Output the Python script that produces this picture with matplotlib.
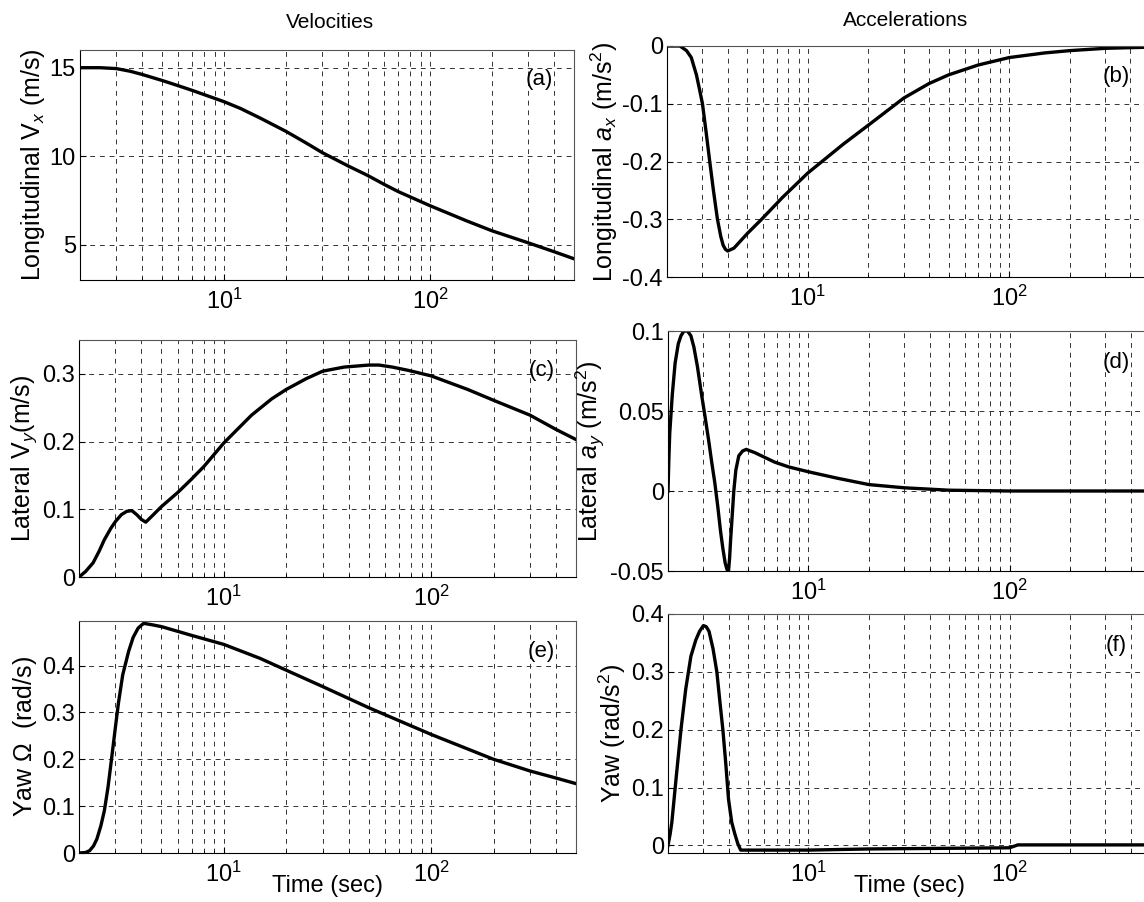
import matplotlib.pyplot as plt
from matplotlib.ticker import LogLocator, NullFormatter

plt.rcParams['font.family'] = ['Liberation Sans', 'DejaVu Sans']
plt.rcParams['mathtext.fontset'] = 'custom'
plt.rcParams['mathtext.rm'] = 'Liberation Sans'
plt.rcParams['mathtext.it'] = 'Liberation Sans:italic'
plt.rcParams['mathtext.bf'] = 'Liberation Sans:bold'

# longitudinal velocity (m/s)
t_vx = [2, 2.5, 3, 3.5, 4, 5, 6, 7, 8, 10, 12, 15, 20, 25, 30, 40, 50, 60, 70, 100, 150, 200, 300, 400, 500]
vx = [15.0, 15.0, 14.95, 14.8, 14.62, 14.28, 13.98, 13.72, 13.48, 13.08, 12.7, 12.15, 11.4, 10.75, 10.2,
      9.45, 8.9, 8.4, 8.0, 7.2, 6.35, 5.78, 5.1, 4.6, 4.2]

# lateral velocity (m/s)
t_vy = [2, 2.15, 2.34, 2.5, 2.65, 2.85, 3.0, 3.2, 3.4, 3.6, 3.8, 4.0, 4.2, 4.5, 5, 6, 6.9, 8, 10, 13.6, 17,
        20, 25, 30, 38, 50, 56, 65, 78, 100, 150, 200, 300, 400, 500]
vy = [0.0, 0.008, 0.021, 0.038, 0.055, 0.072, 0.082, 0.092, 0.097, 0.098, 0.092, 0.085, 0.081, 0.09,
      0.104, 0.125, 0.143, 0.163, 0.198, 0.239, 0.263, 0.277, 0.293, 0.304, 0.31, 0.313, 0.313, 0.31,
      0.305, 0.297, 0.277, 0.261, 0.239, 0.218, 0.203]

# yaw rate (rad/s)
t_r = [2, 2.15, 2.25, 2.35, 2.44, 2.55, 2.65, 2.76, 2.87, 3.0, 3.1, 3.25, 3.47, 3.65, 3.86, 4.1, 4.5, 5,
       6.9, 10, 15, 20, 30, 50, 72, 100, 150, 200, 300, 400, 500]
r = [0.0, 0.001, 0.005, 0.015, 0.03, 0.058, 0.09, 0.14, 0.2, 0.27, 0.32, 0.38, 0.43, 0.46, 0.48, 0.49,
     0.487, 0.483, 0.465, 0.445, 0.415, 0.39, 0.355, 0.31, 0.28, 0.253, 0.222, 0.2, 0.175, 0.16, 0.148]

# longitudinal acceleration (m/s^2)
t_ax = [2, 2.32, 2.5, 2.64, 2.8, 2.9, 3.0, 3.13, 3.26, 3.4, 3.56, 3.7, 3.8, 3.9, 4.0, 4.3, 5, 5.9, 7.5, 10,
        15, 20, 30, 40, 50, 70, 100, 150, 200, 300, 500]
ax_ = [0.0, 0.0, -0.008, -0.02, -0.05, -0.075, -0.1, -0.15, -0.2, -0.25, -0.3, -0.33, -0.345, -0.352,
       -0.355, -0.35, -0.325, -0.3, -0.262, -0.22, -0.17, -0.137, -0.09, -0.065, -0.05, -0.033, -0.02,
       -0.012, -0.008, -0.004, -0.002]

# lateral acceleration (m/s^2)
t_ay = [2, 2.02, 2.04, 2.1, 2.17, 2.25, 2.32, 2.4, 2.5, 2.6, 2.69, 2.8, 2.94, 3.07, 3.2, 3.3, 3.42, 3.54,
        3.65, 3.75, 3.85, 3.93, 4.0, 4.05, 4.1, 4.18, 4.25, 4.35, 4.5, 4.7, 4.9, 5.4, 6.8, 8, 10, 13.9, 20,
        30, 50, 100, 500]
ay = [0.0, 0.02, 0.036, 0.06, 0.08, 0.092, 0.097, 0.1, 0.1, 0.097, 0.09, 0.078, 0.06, 0.045, 0.03, 0.018,
      0.005, -0.01, -0.025, -0.036, -0.045, -0.049, -0.05, -0.042, -0.03, -0.014, 0.0, 0.013, 0.022, 0.025,
      0.026, 0.024, 0.018, 0.015, 0.012, 0.008, 0.004, 0.002, 0.0005, 0.0, 0.0]

# yaw acceleration (rad/s^2)
t_ra = [2, 2.05, 2.09, 2.2, 2.32, 2.45, 2.6, 2.75, 2.87, 3.0, 3.1, 3.2, 3.35, 3.5, 3.62, 3.75, 3.88, 4.0,
        4.15, 4.3, 4.45, 4.6, 10, 20, 100, 110, 500]
ra = [0.0, 0.02, 0.04, 0.12, 0.2, 0.27, 0.327, 0.355, 0.37, 0.38, 0.378, 0.37, 0.34, 0.3, 0.25, 0.2, 0.14,
      0.08, 0.04, 0.02, 0.003, -0.008, -0.008, -0.006, -0.004, 0.001, 0.001]

fig = plt.figure(figsize=(11.44, 9.02), dpi=100)
W, H = 1144.0, 902.0


def make_axes(x0, y0, x1, y1):
    return fig.add_axes([x0 / W, 1 - y1 / H, (x1 - x0) / W, (y1 - y0) / H])


panels = [
    # (box, t, y, ylim, yticks, ylabel, tag)
    ((80, 50, 574, 280), t_vx, vx, (3, 16), [5, 10, 15], 'Longitudinal V$_x$ (m/s)', '(a)'),
    ((79, 340, 576, 577), t_vy, vy, (0, 0.35), [0, 0.1, 0.2, 0.3], 'Lateral V$_y$(m/s)', '(c)'),
    ((79, 621, 576, 853), t_r, r, (0, 0.495), [0, 0.1, 0.2, 0.3, 0.4], 'Yaw $\\Omega$  (rad/s)', '(e)'),
    ((667, 46, 1150, 277), t_ax, ax_, (-0.4, 0), [-0.4, -0.3, -0.2, -0.1, 0],
     'Longitudinal $a_x$ (m/s$^2$)', '(b)'),
    ((668, 331, 1150, 571), t_ay, ay, (-0.05, 0.1), [-0.05, 0, 0.05, 0.1],
     'Lateral $a_y$ (m/s$^2$)', '(d)'),
    ((668, 614, 1150, 853), t_ra, ra, (-0.013, 0.4), [0, 0.1, 0.2, 0.3, 0.4],
     'Yaw (rad/s$^2$)', '(f)'),
]

axes = []
for box, t, y, ylim, yticks, ylabel, tag in panels:
    ax = make_axes(*box)
    ax.semilogx(t, y, color='black', lw=2.4)
    ax.set_xlim(2, 500)
    ax.set_ylim(*ylim)
    ax.set_yticks(yticks)
    ax.set_yticklabels(['%g' % v for v in yticks])
    ax.xaxis.set_major_locator(LogLocator(base=10, numticks=10))
    ax.xaxis.set_minor_locator(LogLocator(base=10, subs=range(2, 10), numticks=20))
    ax.xaxis.set_minor_formatter(NullFormatter())
    ax.grid(True, which='both', axis='x', ls=(0, (5, 5)), color='#333333', lw=0.7)
    ax.grid(True, which='major', axis='y', ls=(0, (5, 5)), color='#333333', lw=0.7)
    ax.tick_params(which='both', direction='in', labelsize=17, pad=6, length=4)
    ax.tick_params(which='minor', length=2)
    ax.tick_params(axis='y', pad=3)
    for s in ax.spines.values():
        s.set_color('#555555')
        s.set_linewidth(0.8)
    ax.spines['left'].set_color('black')
    ax.spines['bottom'].set_color('black')
    ax.set_ylabel(ylabel, fontsize=18, labelpad=2)
    ax.text(0.93, 0.87, tag, transform=ax.transAxes, fontsize=16, ha='center', va='center')
    axes.append(ax)

axes[2].set_xlabel('Time (sec)', fontsize=17, labelpad=-8)
axes[5].set_xlabel('Time (sec)', fontsize=17, labelpad=-8)

fig.text(330 / W, 1 - 22 / H, 'Velocities', fontsize=15, ha='center', va='center')
fig.text(906 / W, 1 - 20 / H, 'Accelerations', fontsize=15, ha='center', va='center')

fig.savefig('out.png', dpi=100)
